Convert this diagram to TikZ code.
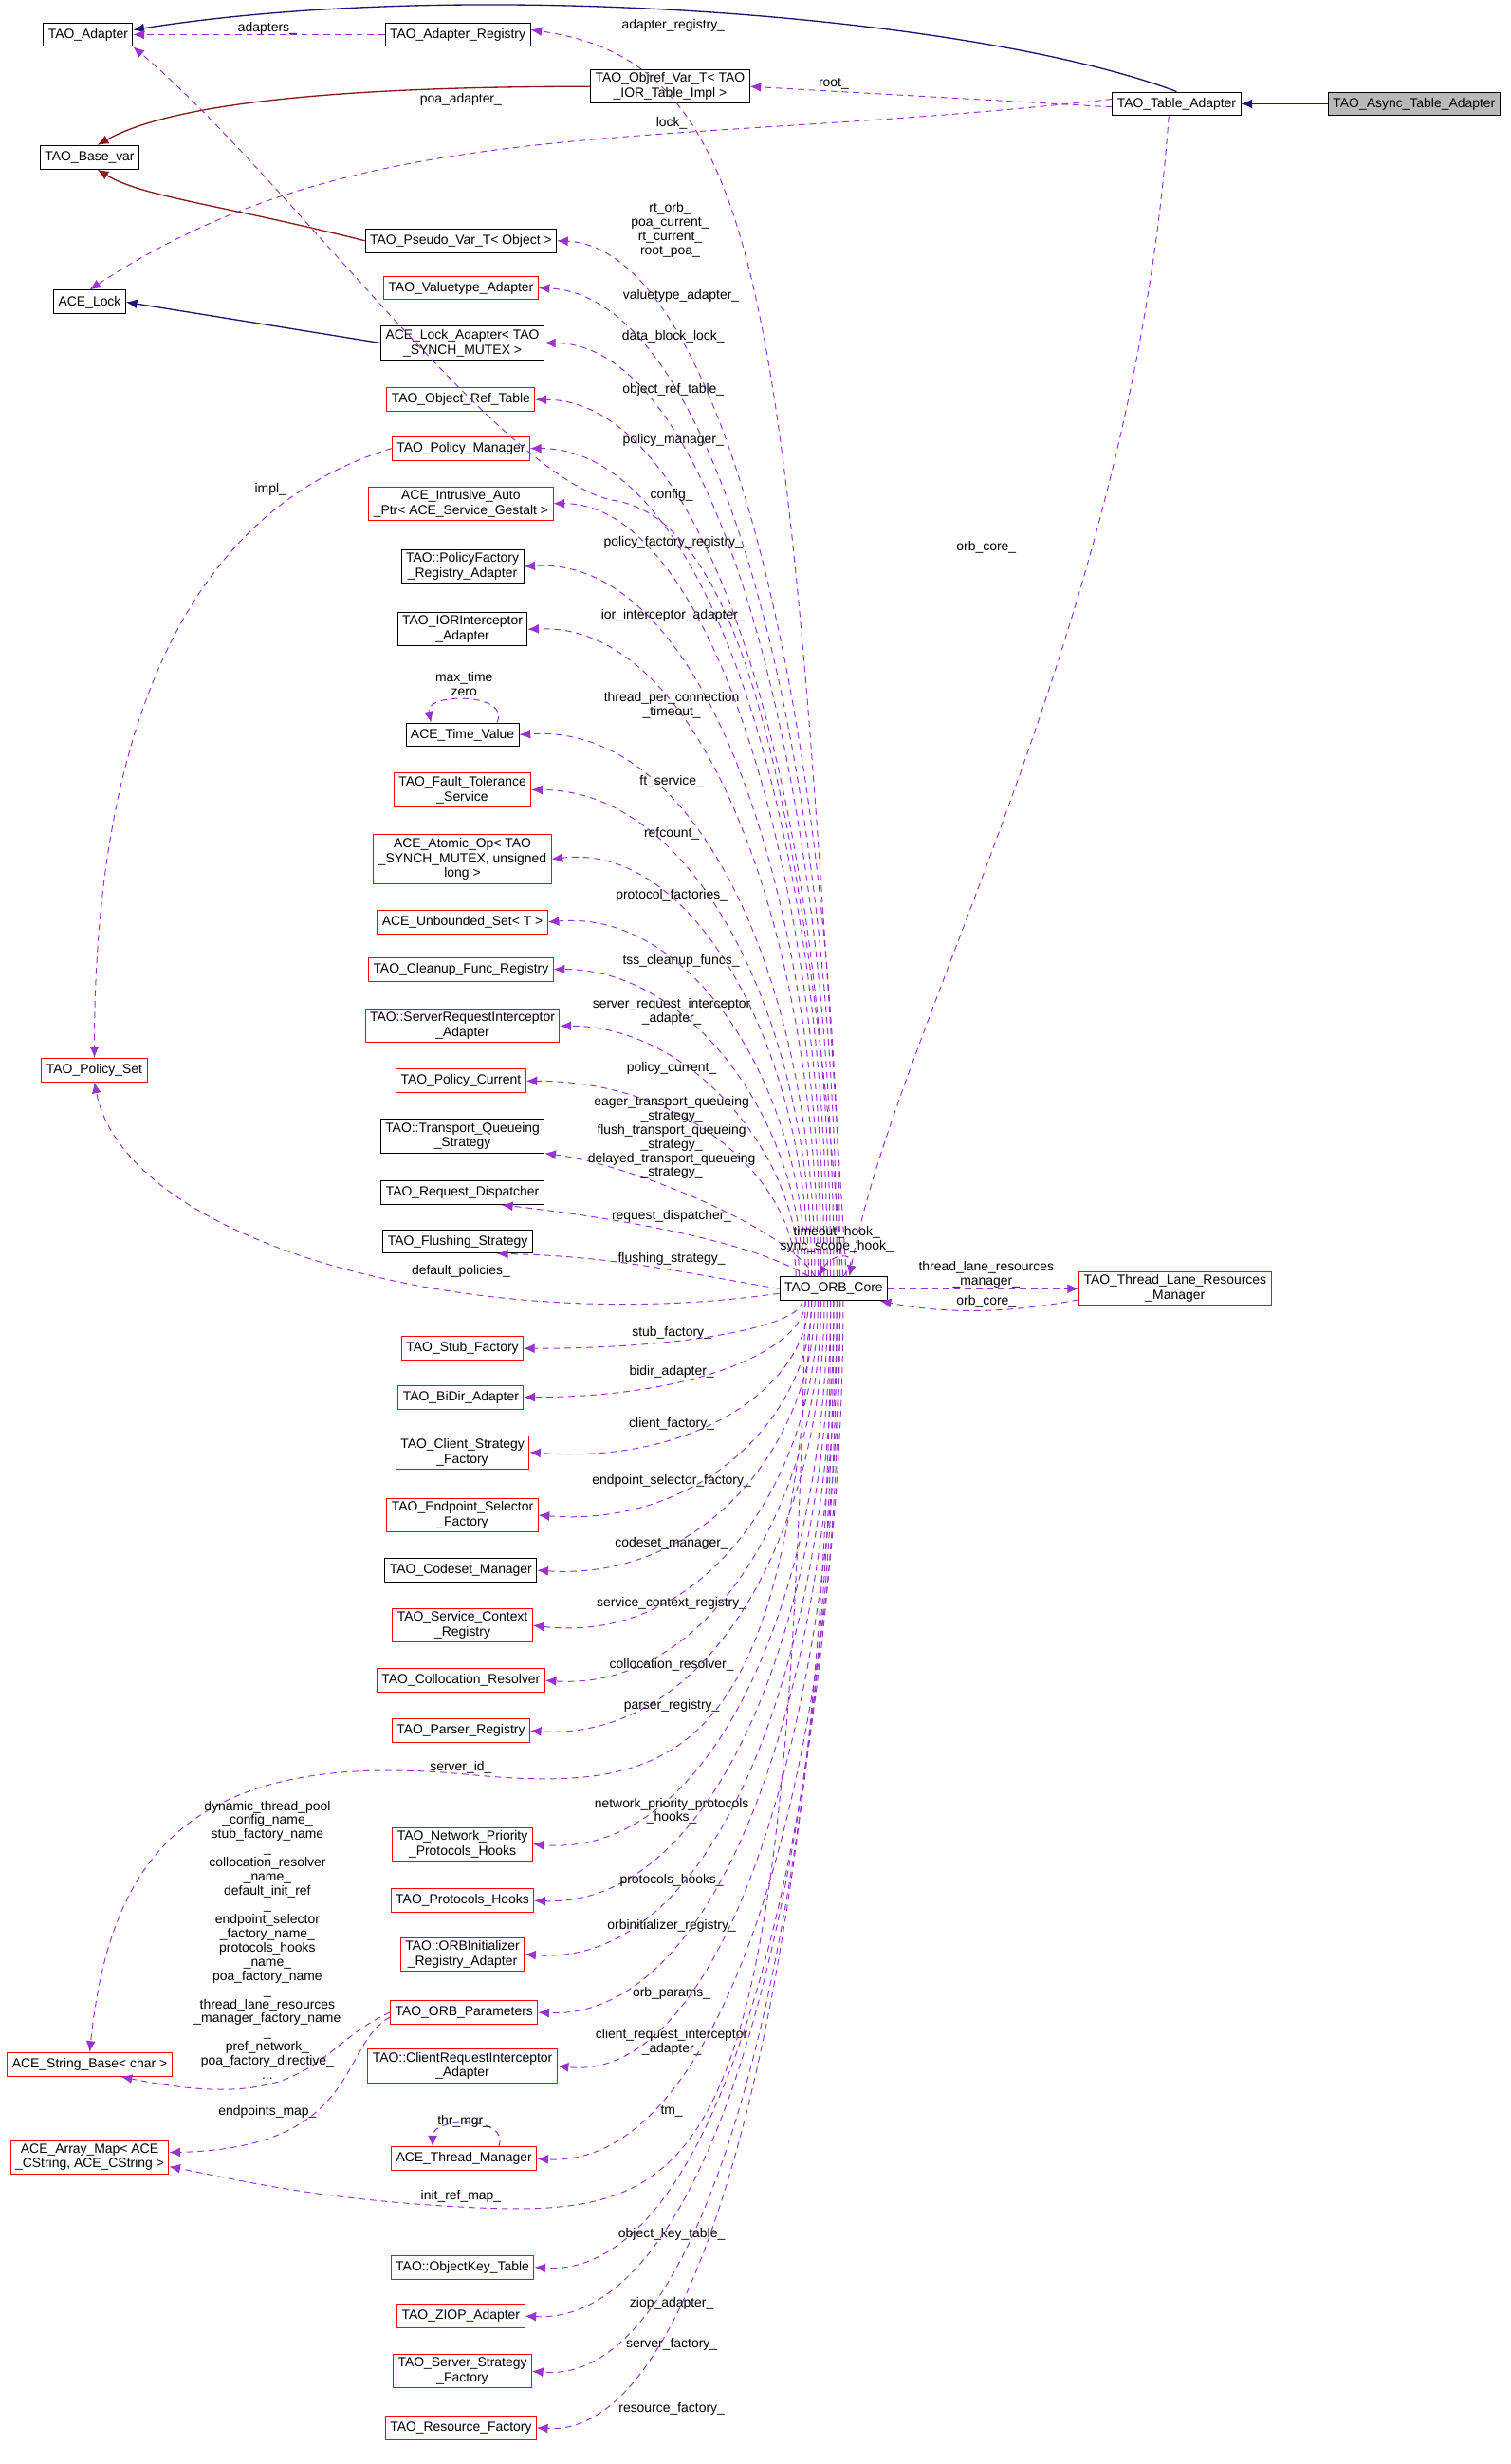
\documentclass[tikz,border=0pt]{standalone}
\usepackage{fontspec}
\setmainfont{Liberation Sans}
\usetikzlibrary{arrows.meta}
\definecolor{dep}{HTML}{9A32CD}
\definecolor{inh}{HTML}{191970}
\definecolor{tpl}{HTML}{8B1A1A}
\tikzset{
 cls/.style={draw=black,fill=white,line width=0.6pt,inner xsep=3pt,inner ysep=2pt,align=center,font=\fontsize{8.4}{9.5}\selectfont,minimum height=15pt},
 rcls/.style={cls,draw=red},
 lbl/.style={align=center,font=\fontsize{8.4}{9}\selectfont,inner sep=0pt},
 depl/.style={draw=dep,dashed,dash pattern=on 4pt off 3pt,line width=0.6pt,-{Latex[length=7pt,width=6pt]}},
 inhl/.style={draw=inh,line width=0.8pt,-{Latex[length=7pt,width=6pt]}},
 tpll/.style={draw=tpl,line width=0.8pt,-{Latex[length=7pt,width=6pt]}}
}
\newcommand\UE[5]{\draw[depl] ([xshift={(#3-530)*1pt}]core.north) .. controls (#3,{#2+0.5*(812-#2)}) and ({#3-70},#2) .. (#1.east);
\node[lbl] (l#1) at (#5) {#4};}
\newcommand\DE[5]{\draw[depl] ([xshift={(#3-530)*1pt}]core.south) .. controls (#3,{#2-0.5*(#2-827)}) and ({#3-70},#2) .. (#1.east);
\node[lbl] (l#1) at (#5) {#4};}
\begin{document}
\begin{tikzpicture}[x=1pt,y=-1pt]
\useasboundingbox (0,0) rectangle (960,1566);
% nodes
\node[cls] (adapter) at (56,22) {TAO\_Adapter};
\node[cls] (areg) at (291,22) {TAO\_Adapter\_Registry};
\node[cls] (objref) at (426,55) {TAO\_Objref\_Var\_T< TAO\\\_IOR\_Table\_Impl >};
\node[cls] (ta) at (748,66) {TAO\_Table\_Adapter};
\node[cls,fill=gray!55] (ata) at (899,66) {TAO\_Async\_Table\_Adapter};
\node[cls] (basevar) at (57,100) {TAO\_Base\_var};
\node[cls] (pseudo) at (293,153) {TAO\_Pseudo\_Var\_T< Object >};
\node[cls] (acelock) at (57,192) {ACE\_Lock};
\node[rcls] (valt) at (293,183) {TAO\_Valuetype\_Adapter};
\node[cls] (lockad) at (294,218) {ACE\_Lock\_Adapter< TAO\\\_SYNCH\_MUTEX >};
\node[rcls] (ort) at (293,254) {TAO\_Object\_Ref\_Table};
\node[rcls] (polman) at (293,285) {TAO\_Policy\_Manager};
\node[rcls] (iap) at (293,320) {ACE\_Intrusive\_Auto\\\_Ptr< ACE\_Service\_Gestalt >};
\node[cls] (pfra) at (294,360) {TAO::PolicyFactory\\\_Registry\_Adapter};
\node[cls] (iora) at (294,400) {TAO\_IORInterceptor\\\_Adapter};
\node[cls] (tv) at (294,467) {ACE\_Time\_Value};
\node[rcls] (fts) at (294,502) {TAO\_Fault\_Tolerance\\\_Service};
\node[rcls] (atom) at (294,546) {ACE\_Atomic\_Op< TAO\\\_SYNCH\_MUTEX, unsigned\\ long >};
\node[rcls] (uset) at (294,586) {ACE\_Unbounded\_Set< T >};
\node[rcls] (cfr) at (293,616) {TAO\_Cleanup\_Func\_Registry};
\node[rcls] (sria) at (294,652) {TAO::ServerRequestInterceptor\\\_Adapter};
\node[rcls] (pcur) at (293,687) {TAO\_Policy\_Current};
\node[cls] (tqs) at (294,722) {TAO::Transport\_Queueing\\\_Strategy};
\node[cls] (rdisp) at (294,758) {TAO\_Request\_Dispatcher};
\node[cls] (fls) at (291,789) {TAO\_Flushing\_Strategy};
\node[cls] (core) at (530,819) {TAO\_ORB\_Core};
\node[rcls] (tlr) at (747,819) {TAO\_Thread\_Lane\_Resources\\\_Manager};
\node[rcls] (pset) at (60,680) {TAO\_Policy\_Set};
\node[rcls] (stubf) at (294,857) {TAO\_Stub\_Factory};
\node[rcls] (bidir) at (293,888) {TAO\_BiDir\_Adapter};
\node[rcls] (csf) at (294,923) {TAO\_Client\_Strategy\\\_Factory};
\node[rcls] (esf) at (294,963) {TAO\_Endpoint\_Selector\\\_Factory};
\node[cls] (csm) at (293,998) {TAO\_Codeset\_Manager};
\node[rcls] (scr) at (294,1033) {TAO\_Service\_Context\\\_Registry};
\node[rcls] (colr) at (293,1068) {TAO\_Collocation\_Resolver};
\node[rcls] (preg) at (293,1100) {TAO\_Parser\_Registry};
\node[rcls] (nph) at (294,1172) {TAO\_Network\_Priority\\\_Protocols\_Hooks};
\node[rcls] (ph) at (294,1208) {TAO\_Protocols\_Hooks};
\node[rcls] (oira) at (294,1242) {TAO::ORBInitializer\\\_Registry\_Adapter};
\node[rcls] (op) at (295,1279) {TAO\_ORB\_Parameters};
\node[rcls] (cria) at (294,1313) {TAO::ClientRequestInterceptor\\\_Adapter};
\node[rcls] (tm) at (295,1372) {ACE\_Thread\_Manager};
\node[rcls] (sb) at (57,1312) {ACE\_String\_Base< char >};
\node[rcls] (am) at (57,1371) {ACE\_Array\_Map< ACE\\\_CString, ACE\_CString >};
\node[rcls] (okt) at (294,1441) {TAO::ObjectKey\_Table};
\node[rcls] (ziop) at (293,1472) {TAO\_ZIOP\_Adapter};
\node[rcls] (ssf) at (294,1507) {TAO\_Server\_Strategy\\\_Factory};
\node[rcls] (rf) at (293,1543) {TAO\_Resource\_Factory};
% inheritance / template
\draw[inhl] (ta.north) .. controls (620,10) and (300,-15) .. ([yshift=3pt]adapter.east);
\draw[inhl] (ata) -- (ta);
\draw[inhl] (lockad.west) -- (acelock.east);
\draw[tpll] (objref.west) .. controls (220,55) and (110,65) .. ([xshift=5pt]basevar.north);
\draw[tpll] (pseudo.west) .. controls (140,130) and (90,125) .. ([xshift=5pt]basevar.south);
% table adapter uses
\draw[depl] (areg.west) -- (adapter.east);
\node[lbl] (ladapters) at (170,18) {adapters\_};
\draw[depl] ([yshift=-2pt]ta.west) -- (objref.east);
\node[lbl] (lroot) at (530,53) {root\_};
\draw[depl] ([yshift=3pt]ta.west) .. controls (420,95) and (230,70) .. (acelock.north);
\node[lbl] (llock) at (427,78) {lock\_};
\draw[depl] ([xshift=-5pt]ta.south) .. controls (720,400) and (570,650) .. ([xshift=10pt]core.north);
\node[lbl] (lorbcore1) at (627,348) {orb\_core\_};
% core -> top
\draw[depl] ([xshift=8pt]core.north) .. controls (500,200) and (490,40) .. ([yshift=3pt]areg.east);
\node[lbl] (lareg) at (428,16) {adapter\_registry\_};
\draw[depl] ([xshift=6pt]core.north) .. controls (510,500) and (470,330) .. (390,318) .. controls (320,305) and (180,110) .. (adapter.south east);
\node[lbl] (lpoa) at (293,63) {poa\_adapter\_};
\UE{pseudo}{158}{534}{rt\_orb\_\\poa\_current\_\\rt\_current\_\\root\_poa\_}{426,146}
\UE{valt}{188}{532}{valuetype\_adapter\_}{433,188}
\UE{lockad}{218}{530}{data\_block\_lock\_}{428,214}
\UE{ort}{254}{528}{object\_ref\_table\_}{428,248}
\UE{polman}{285}{526}{policy\_manager\_}{428,280}
\UE{iap}{320}{524}{config\_}{427,315}
\UE{pfra}{353}{522}{policy\_factory\_registry\_}{428,345}
\UE{iora}{395}{520}{ior\_interceptor\_adapter\_}{428,391}
\UE{tv}{459}{518}{thread\_per\_connection\\\_timeout\_}{427,448}
\UE{fts}{502}{516}{ft\_service\_}{427,497}
\UE{atom}{535}{514}{refcount\_}{427,530}
\UE{uset}{578}{512}{protocol\_factories\_}{427,569}
\UE{cfr}{616}{510}{tss\_cleanup\_funcs\_}{433,611}
\UE{sria}{652}{508}{server\_request\_interceptor\\\_adapter\_}{427,643}
\UE{pcur}{687}{506}{policy\_current\_}{427,679}
\draw[depl] ([xshift=-12pt]core.north) .. controls (500,780) and (400,740) .. (tqs.south east);
\node[lbl] (ltqs) at (427,723) {eager\_transport\_queueing\\\_strategy\_\\flush\_transport\_queueing\\\_strategy\_\\delayed\_transport\_queueing\\\_strategy\_};
\draw[depl] ([xshift=-16pt]core.north) .. controls (480,790) and (400,775) .. ([xshift=25pt]rdisp.south);
\node[lbl] (lrd) at (427,773) {request\_dispatcher\_};
\draw[depl] (core.west) .. controls (440,810) and (390,798) .. ([xshift=25pt]fls.south);
\node[lbl] (lfls) at (427,800) {flushing\_strategy\_};
% self loops
\draw[depl] ([xshift=22pt]tv.north) .. controls (325,440) and (270,440) .. ([xshift=-20pt]tv.north);
\node[lbl] (ltv) at (295,435) {max\_time\\zero};
\draw[depl] ([xshift=6pt]core.north) .. controls (550,795) and (530,795) .. ([xshift=-10pt]core.north);
\node[lbl] (lself) at (532,788) {timeout\_hook\_\\sync\_scope\_hook\_};
\draw[depl] ([xshift=22pt]tm.north) .. controls (325,1345) and (275,1345) .. ([xshift=-20pt]tm.north);
\node[lbl] (ltm) at (295,1348) {thr\_mgr\_};
% policy set
\draw[depl] (polman.west) .. controls (100,330) and (60,500) .. (pset.north);
\node[lbl] (limpl) at (172,311) {impl\_};
\draw[depl] ([yshift=-3pt]core.west) .. controls (300,850) and (80,790) .. (pset.south);
\node[lbl] (ldp) at (293,808) {default\_policies\_};
% thread lane
\draw[depl] (core.east) -- (tlr.west);
\node[lbl] (ltlr) at (627,810) {thread\_lane\_resources\\\_manager\_};
\draw[depl] ([yshift=-7pt]tlr.west) .. controls (640,835) and (600,835) .. ([xshift=-5pt]core.south east);
\node[lbl] (lorbcore2) at (627,827) {orb\_core\_};
% core -> below
\DE{stubf}{857}{510}{stub\_factory\_}{427,847}
\DE{bidir}{888}{512}{bidir\_adapter\_}{427,872}
\DE{csf}{931}{514}{client\_factory\_}{427,905}
\DE{esf}{971}{516}{endpoint\_selector\_factory\_}{427,941}
\DE{csm}{1005}{518}{codeset\_manager\_}{427,981}
\DE{scr}{1046}{520}{service\_context\_registry\_}{427,1019}
\DE{colr}{1075}{522}{collocation\_resolver\_}{427,1058}
\DE{preg}{1107}{524}{parser\_registry\_}{427,1084}
\DE{nph}{1182}{526}{network\_priority\_protocols\\\_hooks\_}{427,1151}
\DE{ph}{1212}{528}{protocols\_hooks\_}{427,1195}
\DE{oira}{1252}{530}{orbinitializer\_registry\_}{427,1224}
\DE{op}{1284}{532}{orb\_params\_}{427,1267}
\DE{cria}{1325}{534}{client\_request\_interceptor\\\_adapter\_}{427,1298}
\DE{tm}{1379}{536}{tm\_}{427,1342}
\DE{okt}{1449}{534}{object\_key\_table\_}{427,1420}
\DE{ziop}{1478}{532}{ziop\_adapter\_}{427,1464}
\DE{ssf}{1518}{530}{server\_factory\_}{427,1490}
\DE{rf}{1550}{528}{resource\_factory\_}{427,1531}
% strings / maps
\draw[depl] ([xshift=-14pt]core.south) .. controls (500,1120) and (430,1140) .. (300,1128) .. controls (120,1110) and (70,1180) .. (sb.north);
\node[lbl] (lsid) at (293,1123) {server\_id\_};
\draw[depl] (op.west) .. controls (200,1300) and (200,1345) .. ([xshift=20pt]sb.south);
\node[lbl] (lbig) at (170,1233) {dynamic\_thread\_pool\\\_config\_name\_\\stub\_factory\_name\\\_\\collocation\_resolver\\\_name\_\\default\_init\_ref\\\_\\endpoint\_selector\\\_factory\_name\_\\protocols\_hooks\\\_name\_\\poa\_factory\_name\\\_\\thread\_lane\_resources\\\_manager\_factory\_name\\\_\\pref\_network\_\\poa\_factory\_directive\_\\...};
\draw[depl] ([yshift=-3pt]op.west) .. controls (215,1300) and (230,1365) .. ([yshift=3pt]am.east);
\node[lbl] (lem) at (170,1342) {endpoints\_map\_};
\draw[depl] ([xshift=-18pt]core.south) .. controls (500,1380) and (450,1410) .. (300,1403) .. controls (200,1398) and (150,1385) .. ([yshift=-6pt]am.east);
\node[lbl] (lirm) at (293,1396) {init\_ref\_map\_};
\end{tikzpicture}
\end{document}
